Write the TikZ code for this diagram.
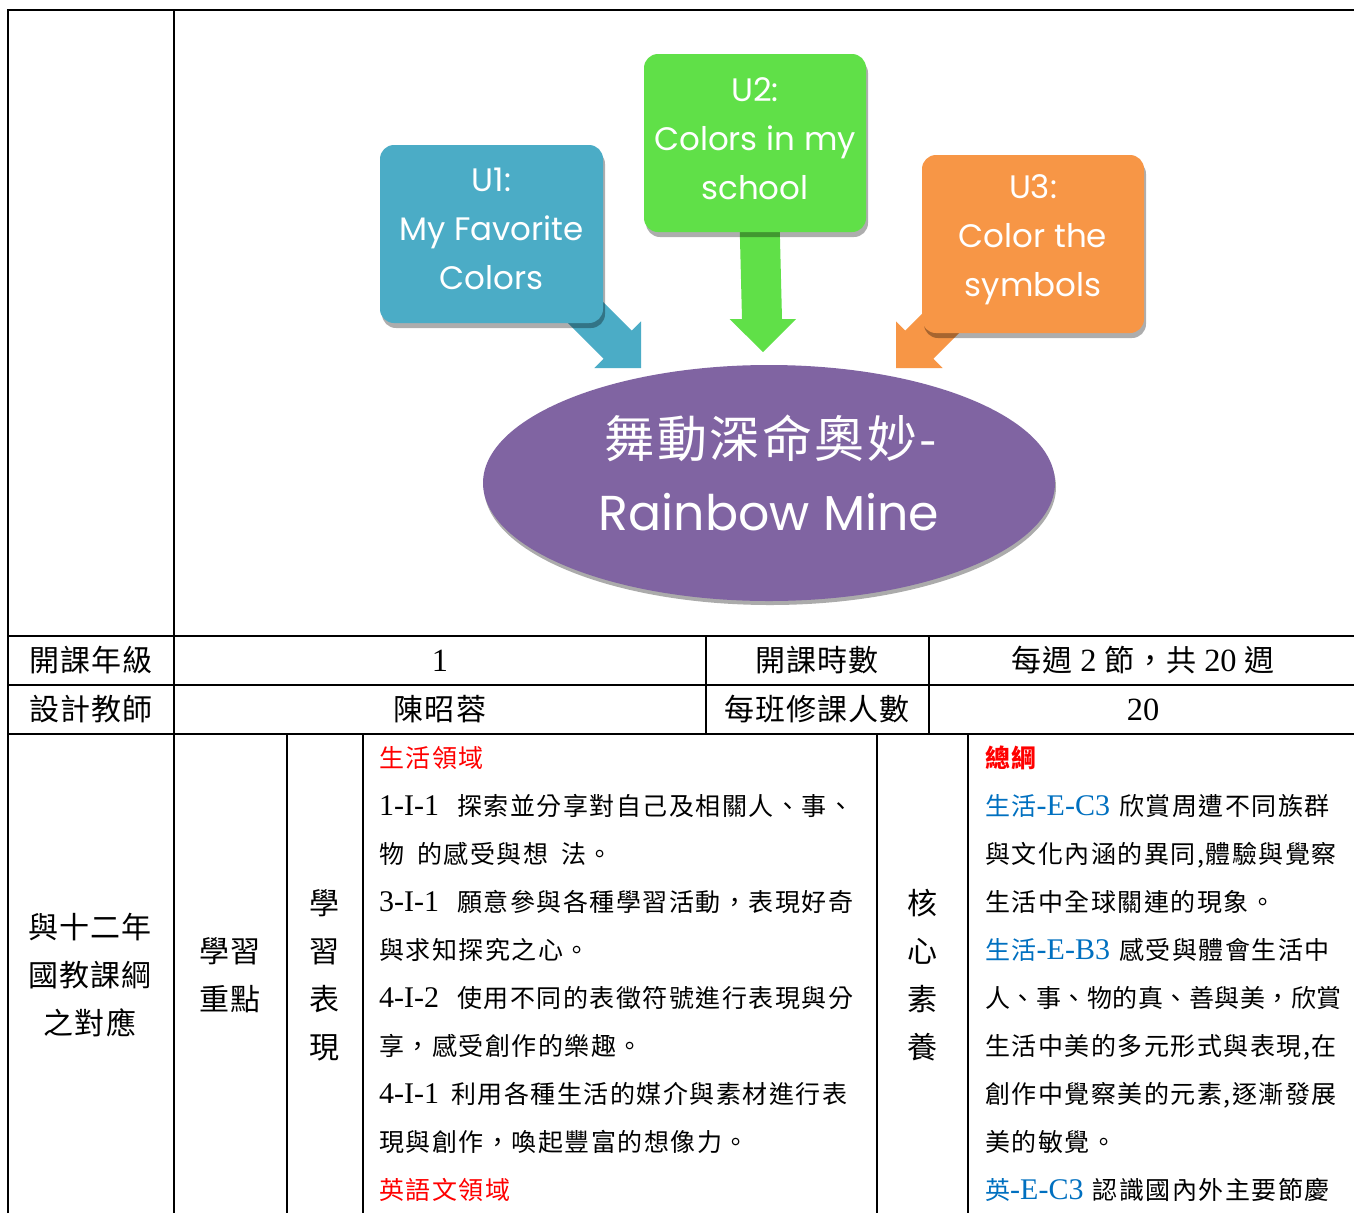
\documentclass[tikz,border=0pt]{standalone}
\usepackage{fontspec}
\setmainfont{Liberation Serif}
\newfontfamily\cjk{Noto Sans CJK TC}[LetterSpace=3.5]
\newfontfamily\cjktitle{Noto Sans CJK TC}[LetterSpace=5]
\newfontfamily\cjkls{Noto Sans CJK TC}[LetterSpace=6]
\newfontfamily\cjktight{Noto Sans CJK TC}[LetterSpace=2]
\newfontfamily\latf{Liberation Serif}[Scale=1.08]
\newfontfamily\latb{Liberation Serif}[Scale=1.2]
\newfontfamily\comic{Poppins}
\usetikzlibrary{shapes.geometric}
\definecolor{u1c}{RGB}{75,172,198}
\definecolor{u2c}{RGB}{96,224,72}
\definecolor{u3c}{RGB}{247,150,70}
\definecolor{purp}{RGB}{128,100,162}
\definecolor{wred}{RGB}{255,0,0}
\definecolor{wblue}{RGB}{0,112,192}
\begin{document}
\begin{tikzpicture}[x=1pt,y=-1pt,
  grid/.style={line width=2.2pt, black},
  unitbox/.style={rounded corners=14pt, minimum width=223pt, minimum height=178pt, inner sep=0pt},
  unittext/.style={text=white, align=center, inner sep=0pt, font=\comic\fontsize{32.5}{49}\selectfont},
  boxshadow/.style={fill=black, opacity=0.32, rounded corners=14pt},
  head/.style={font=\cjk\fontsize{30}{30}\selectfont, text height=26pt, text depth=5pt, inner sep=0pt},
  body/.style={anchor=west, font=\cjkls\fontsize{25}{25}\selectfont, text height=21pt, text depth=4pt, inner sep=0pt},
]
\useasboundingbox (0,0) rectangle (1354,1213);
\fill[white] (0,0) rectangle (1354,1213);

% ---------- table grid ----------
\draw[grid] (8,1213) -- (8,10) -- (1354,10);
\draw[grid] (174,10) -- (174,1213);
\foreach \y in {636,685,734} \draw[grid] (8,\y) -- (1354,\y);
\foreach \x in {706,929} \draw[grid] (\x,636) -- (\x,734);
\foreach \x in {287,363,877,968} \draw[grid] (\x,734) -- (\x,1213);

% ---------- block arrows ----------
\fill[u1c] (561.1,259.9) -- (631.8,330.6) -- (641,321.4) -- (641,368) -- (594.4,368) -- (603.6,358.8) -- (532.9,288.1) -- cycle;
\fill[u2c] (739,200) -- (742,319) -- (729.5,319) -- (763,352) -- (796,319) -- (782,319) -- (779,200) -- cycle;
\fill[u3c] (975.9,259.9) -- (905.2,330.6) -- (896,321.4) -- (896,368) -- (942.6,368) -- (933.4,358.8) -- (1004.1,288.1) -- cycle;

% ---------- unit boxes ----------
\fill[boxshadow] (382,150) rectangle (605,328);
\fill[boxshadow] (646,59) rectangle (868,237);
\fill[boxshadow] (924,160) rectangle (1146,338);
\node[unitbox, fill=u1c] (u1) at (491.5,234) {};
\node[unitbox, fill=u2c, minimum width=222pt] (u2) at (755,143) {};
\node[unitbox, fill=u3c, minimum width=222pt] (u3) at (1033,244) {};
\node[unittext] (u1t) at (491.5,229) {U1:\\My Favorite\\Colors};
\node[unittext] (u2t) at (755,138.5) {U2:\\Colors in my\\school};
\node[unittext] (u3t) at (1033,239.5) {U3:\\Color the\\symbols};

% ---------- central ellipse ----------
\fill[black, opacity=0.33] (770,487) ellipse [x radius=286pt, y radius=118pt];
\node[ellipse, fill=purp, minimum width=572pt, minimum height=236pt, inner sep=0pt] (title) at (769,483) {};
\node[text=white, inner sep=0pt, font=\cjktitle\fontsize{50}{50}\selectfont] (tt1) at (771,438) {舞動深命奧妙-};
\node[text=white, inner sep=0pt, font=\comic\fontsize{49}{49}\selectfont] (tt2) at (769,512) {Rainbow Mine};

% ---------- header rows ----------
\node[head] (h1) at (91,661) {開課年級};
\node[head] (h2) at (440,661) {\latf 1};
\node[head] (h3) at (817,661) {開課時數};
\node[head] (h4) at (1143,661) {每週 {\latf 2} 節，共 {\latf 20} 週};
\node[head] (h5) at (91,710) {設計教師};
\node[head] (h6) at (440,710) {陳昭蓉};
\node[head] (h7) at (817,710) {每班修課人數};
\node[head] (h8) at (1143,710) {\latf 20};

% ---------- vertical labels ----------
\foreach \t [count=\i] in {與十二年,國教課綱,之對應} \node[head] (a\i) at (90,880+48*\i) {\t};
\foreach \t [count=\i] in {學習,重點} \node[head] (b\i) at (230,904+48*\i) {\t};
\foreach \t [count=\i] in {學,習,表,現} \node[head] (c\i) at (324,856+48*\i) {\t};
\foreach \t [count=\i] in {核,心,素,養} \node[head] (d\i) at (922,856+48*\i) {\t};

% ---------- left text column ----------
\node[body, text=wred] (l1) at (379,759) {生活領域};
\node[body] (l2) at (379,807) {{\latb 1-I-1}\hspace{18pt}探索並分享對自己及相關人、事、};
\node[body] (l3) at (379,855) {物\hspace{13pt}的感受與想\hspace{13pt}法。};
\node[body] (l4) at (379,903) {{\latb 3-I-1}\hspace{18pt}願意參與各種學習活動，表現好奇};
\node[body] (l5) at (379,951) {與求知探究之心。};
\node[body] (l6) at (379,999) {{\latb 4-I-2}\hspace{18pt}使用不同的表徵符號進行表現與分};
\node[body] (l7) at (379,1047) {享，感受創作的樂趣。};
\node[body] (l8) at (379,1095) {{\latb 4-I-1}\hspace{12pt}利用各種生活的媒介與素材進行表};
\node[body] (l9) at (379,1143) {現與創作，喚起豐富的想像力。};
\node[body, text=wred] (l10) at (379,1191) {英語文領域};

% ---------- right text column ----------
\node[body, text=wred] (r1) at (985,759) {\bfseries 總綱};
\node[body] (r2) at (985,807) {{\color{wblue}生活{\latb -E-C3}}\hspace{9pt}欣賞周遭不同族群};
\node[body] (r3) at (985,855) {與文化內涵的異同,體驗與覺察};
\node[body] (r4) at (985,903) {生活中全球關連的現象。};
\node[body] (r5) at (985,951) {{\color{wblue}生活{\latb -E-B3}}\hspace{9pt}感受與體會生活中};
\node[body] (r6) at (985,999) {\cjktight 人、事、物的真、善與美，欣賞};
\node[body] (r7) at (985,1047) {生活中美的多元形式與表現,在};
\node[body] (r8) at (985,1095) {創作中覺察美的元素,逐漸發展};
\node[body] (r9) at (985,1143) {美的敏覺。};
\node[body] (r10) at (985,1191) {{\color{wblue}英{\latb -E-C3}}\hspace{9pt}認識國內外主要節慶};
\end{tikzpicture}
\end{document}
